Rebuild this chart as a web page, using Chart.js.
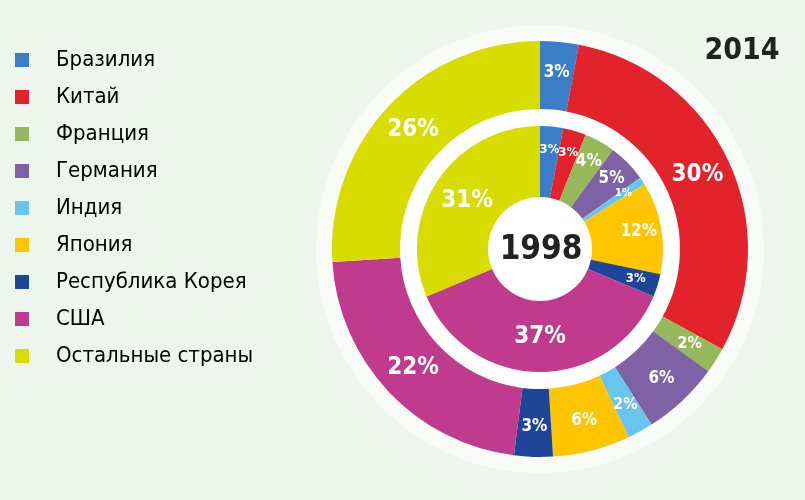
<!DOCTYPE html>
<html>
<head>
<meta charset="utf-8">
<script src="https://cdn.jsdelivr.net/npm/chart.js@4.4.1/dist/chart.umd.min.js"></script>
<style>
  html, body { margin: 0; padding: 0; background: #edf5ec; }
  #wrap { width: 805px; height: 500px; }
</style>
</head>
<body>
<div id="wrap"><canvas id="chart"></canvas></div>
<script>
// data
const countries = ["Бразилия", "Китай", "Франция", "Германия", "Индия", "Япония", "Республика Корея", "США", "Остальные страны"];
const colors = ["#3a7dc8", "#e3232c", "#95b95a", "#7f62a6", "#6ac5ee", "#ffc600", "#1f4599", "#c03a8e", "#d8dc00"];
const share2014 = [3, 30, 2, 6, 2, 6, 3, 22, 26];
const share1998 = [3, 3, 4, 5, 1, 12, 3, 37, 31];
const years = ["2014", "1998"];

const FONT = '"DejaVu Sans Condensed", "Liberation Sans Narrow", "Open Sans", sans-serif';
const LEGEND_FONT = 22;
const LEGEND_PAD = 15;
const BOX = 14;
const BOX_SLOT = 30;
const CENTER_X = 540;

// legend swatch: square on the left of a wider slot, so text sits further right
function swatch(color) {
  const c = document.createElement('canvas');
  c.width = BOX_SLOT;
  c.height = BOX;
  const g = c.getContext('2d');
  g.fillStyle = color;
  g.fillRect(0, 0, BOX, BOX);
  return c;
}
const swatches = colors.map(swatch);

const backdrop = {
  id: 'backdrop',
  beforeDatasetsDraw(chart) {
    const {ctx} = chart;
    const outer = chart.getDatasetMeta(0).data[0];
    const gap = chart.getDatasetMeta(1).data[0];
    ctx.save();
    ctx.fillStyle = '#f8fbf7';
    ctx.beginPath();
    ctx.arc(outer.x, outer.y, outer.outerRadius + 16, 0, Math.PI * 2);
    ctx.fill();
    ctx.fillStyle = '#ffffff';
    ctx.beginPath();
    ctx.arc(outer.x, outer.y, gap.outerRadius, 0, Math.PI * 2);
    ctx.fill();
    ctx.restore();
  }
};

const sliceLabels = {
  id: 'sliceLabels',
  afterDatasetsDraw(chart) {
    const {ctx} = chart;
    ctx.save();
    ctx.fillStyle = '#ffffff';
    ctx.textAlign = 'center';
    ctx.textBaseline = 'middle';
    [0, 2].forEach(di => {
      const values = chart.data.datasets[di].data;
      chart.getDatasetMeta(di).data.forEach((arc, i) => {
        const v = values[i];
        const big = v >= 20;
        const f = big ? 0.5 : (di === 0 ? 0.55 : 0.68);
        const r = arc.innerRadius + (arc.outerRadius - arc.innerRadius) * f;
        const mid = (arc.startAngle + arc.endAngle) / 2;
        const arcLen = (arc.endAngle - arc.startAngle) * r;
        const size = big ? 24 : Math.max(11, Math.min(17, Math.round(arcLen * 0.7)));
        ctx.font = 'bold ' + size + 'px ' + FONT;
        ctx.fillText(v + '%', arc.x + Math.cos(mid) * r, arc.y + Math.sin(mid) * r);
      });
    });
    ctx.restore();
  }
};

const yearLabels = {
  id: 'yearLabels',
  afterDraw(chart) {
    const {ctx} = chart;
    const arc = chart.getDatasetMeta(0).data[0];
    ctx.save();
    ctx.fillStyle = '#222222';
    ctx.textAlign = 'center';
    ctx.textBaseline = 'middle';
    ctx.font = 'bold 30px ' + FONT;
    ctx.fillText(years[0], 742, 51);
    ctx.font = 'bold 33px ' + FONT;
    ctx.fillText(years[1], arc.x + 1, arc.y + 1);
    ctx.restore();
  }
};

const chart = new Chart(document.getElementById('chart'), {
  type: 'doughnut',
  data: {
    labels: countries,
    datasets: [
      { label: years[0], data: share2014, backgroundColor: colors, weight: 68 },
      { label: 'gap', data: [1], backgroundColor: 'rgba(0,0,0,0)', weight: 17 },
      { label: years[1], data: share1998, backgroundColor: colors, weight: 71 }
    ]
  },
  options: {
    responsive: true,
    maintainAspectRatio: false,
    animation: false,
    radius: 208,
    cutout: '25%',
    elements: { arc: { borderWidth: 0 } },
    layout: { padding: { left: 0, right: 0, top: 34, bottom: 36 } },
    plugins: {
      // empty title used only as a spacer between legend and rings
      title: {
        display: true,
        position: 'left',
        weight: 500,
        text: ' ',
        font: { size: 1 },
        padding: { top: 0, bottom: 0 }
      },
      legend: {
        position: 'left',
        align: 'start',
        maxWidth: 400,
        labels: {
          usePointStyle: true,
          pointStyleWidth: BOX_SLOT,
          boxHeight: BOX,
          padding: LEGEND_PAD,
          color: '#222222',
          font: { family: FONT, size: LEGEND_FONT },
          generateLabels: chart => countries.map((text, i) => ({
            text: text,
            fillStyle: colors[i],
            strokeStyle: colors[i],
            lineWidth: 0,
            pointStyle: swatches[i],
            hidden: !chart.getDataVisibility(i),
            index: i
          }))
        }
      },
      tooltip: { enabled: false }
    }
  },
  plugins: [backdrop, sliceLabels, yearLabels]
});

// push the chart area so the rings sit at x=540 whatever the legend width is
const area = chart.chartArea;
const shift = 2 * CENTER_X - (area.left + area.right);
if (shift > 0) {
  chart.options.plugins.title.padding.bottom = shift;
} else {
  chart.options.layout.padding.right = -shift;
}
chart.update();
</script>
</body>
</html>
